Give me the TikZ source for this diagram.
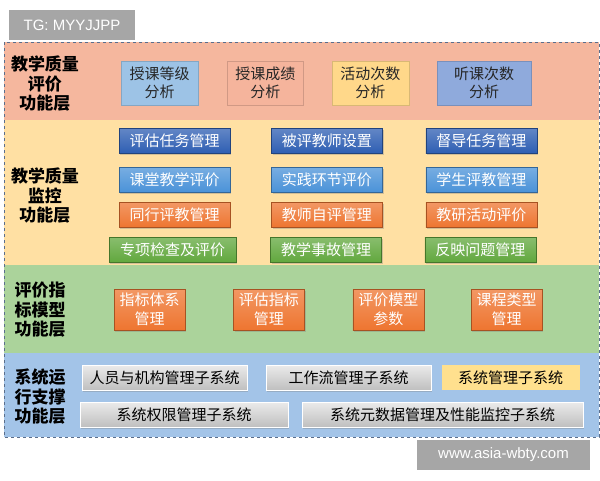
\documentclass[tikz,border=0pt]{standalone}
\usepackage{fontspec}
\setmainfont{Liberation Sans}
\newfontfamily\cjk{Noto Sans CJK SC}
\usetikzlibrary{positioning,shadows}

\definecolor{bandA}{HTML}{F5B79E}
\definecolor{bandB}{HTML}{FFE0A3}
\definecolor{bandC}{HTML}{ABD39B}
\definecolor{bandD}{HTML}{A3C4E8}
\definecolor{frameline}{HTML}{5A6E8C}
\definecolor{paleblue}{HTML}{9DC3E6}
\definecolor{palesalmon}{HTML}{F5B49C}
\definecolor{paleyellow}{HTML}{FFD88A}
\definecolor{paleviolet}{HTML}{8FAADC}
\definecolor{darkbtn}{HTML}{2F5FB3}
\definecolor{midbtn}{HTML}{4A92D8}
\definecolor{orangebtn}{HTML}{EE7530}
\definecolor{greenbtn}{HTML}{62A83E}
\definecolor{subyellow}{HTML}{FFE08E}

\begin{document}
\begin{tikzpicture}[x=1pt,y=-1pt,
	font=\cjk\fontsize{15}{18}\selectfont,
	layer/.style={font=\cjk\bfseries\fontsize{17}{19.5}\selectfont,align=center,text=black},
	wm/.style={fill=black!35,text=white,font=\rmfamily\fontsize{15}{18}\selectfont,minimum height=30pt,inner sep=0pt},
	box/.style={rectangle,align=center,inner sep=0pt,font=\cjk\fontsize{15}{18}\selectfont},
	flat/.style={box,minimum height=44pt,draw=#1!85!black,fill=#1,text=black!85,line width=0.4pt},
	btn/.style={box,minimum width=111pt,minimum height=25pt,text=white,draw=#1!70!black,line width=0.4pt,
		top color=#1!75!white,bottom color=#1,
		drop shadow={shadow xshift=1.2pt,shadow yshift=-1.5pt,opacity=0.35}},
	idx/.style={btn=#1,minimum width=71pt,minimum height=41pt,font=\cjk\fontsize{15}{19}\selectfont},
	sub/.style={box,minimum height=25pt,text=black,draw=white,line width=1pt,
		top color=black!8,bottom color=black!25,
		drop shadow={shadow xshift=1.2pt,shadow yshift=-1.5pt,opacity=0.35}}]

	\useasboundingbox (0,0) rectangle (600,480);

	% layer bands
	\fill[bandA] (4,42)  rectangle (599,120);
	\fill[bandB] (4,120) rectangle (599,265);
	\fill[bandC] (4,265) rectangle (599,353);
	\fill[bandD] (4,353) rectangle (599,437);
	\draw[frameline,dashed,line width=0.8pt] (4,42) rectangle (599,437);

	% watermarks
	\node[wm,minimum width=126pt] (tg) at (72,25) {TG: MYYJJPP};
	\node[wm,minimum width=173pt] (web) at (503.5,455) {www.asia-wbty.com};

	% evaluation layer
	\node[layer] (evalL) at (45,84) {教学质量\\评价\\功能层};
	\node[flat=paleblue,minimum width=77pt] (e1) at (159.5,83) {授课等级\\分析};
	\node[flat=palesalmon,minimum width=76pt] (e2) [right=29pt of e1] {授课成绩\\分析};
	\node[flat=paleyellow,minimum width=77pt] (e3) [right=28pt of e2] {活动次数\\分析};
	\node[flat=paleviolet,minimum width=94pt] (e4) [right=28pt of e3] {听课次数\\分析};

	% monitoring layer
	\node[layer] (monL) at (45,196) {教学质量\\监控\\功能层};
	\node[btn=darkbtn] (m11) at (174.5,140.5) {评估任务管理};
	\node[btn=darkbtn] (m12) [right=41pt of m11] {被评教师设置};
	\node[btn=darkbtn] (m13) [right=43pt of m12] {督导任务管理};
	\node[btn=midbtn] (m21) at (174.5,180) {课堂教学评价};
	\node[btn=midbtn] (m22) [right=41pt of m21] {实践环节评价};
	\node[btn=midbtn] (m23) [right=43pt of m22] {学生评教管理};
	\node[btn=orangebtn] (m31) at (174.5,215) {同行评教管理};
	\node[btn=orangebtn] (m32) [right=41pt of m31] {教师自评管理};
	\node[btn=orangebtn] (m33) [right=43pt of m32] {教研活动评价};
	\node[btn=greenbtn] (m42) at (326,249.5) {教学事故管理};
	\node[btn=greenbtn,minimum width=127pt] (m41) [left=34pt of m42] {专项检查及评价};
	\node[btn=greenbtn] (m43) [right=43pt of m42] {反映问题管理};

	% index model layer
	\node[layer] (idxL) at (40,310) {评价指\\标模型\\功能层};
	\node[idx=orangebtn] (i1) at (149.5,309.5) {指标体系\\管理};
	\node[idx=orangebtn] (i2) [right=48pt of i1] {评估指标\\管理};
	\node[idx=orangebtn] (i3) [right=48pt of i2] {评价模型\\参数};
	\node[idx=orangebtn] (i4) [right=47pt of i3] {课程类型\\管理};

	% support layer
	\node[layer] (supL) at (40,397) {系统运\\行支撑\\功能层};
	\node[sub,minimum width=165pt] (s1) at (164.5,377.5) {人员与机构管理子系统};
	\node[sub,minimum width=165pt] (s2) [right=18pt of s1] {工作流管理子系统};
	\node[box,minimum width=138pt,minimum height=25pt,fill=subyellow,text=black] (s3) [right=10pt of s2] {系统管理子系统};
	\node[sub,minimum width=208pt] (s4) at (184,414.5) {系统权限管理子系统};
	\node[sub,minimum width=281pt] (s5) [right=13pt of s4] {系统元数据管理及性能监控子系统};
\end{tikzpicture}
\end{document}
